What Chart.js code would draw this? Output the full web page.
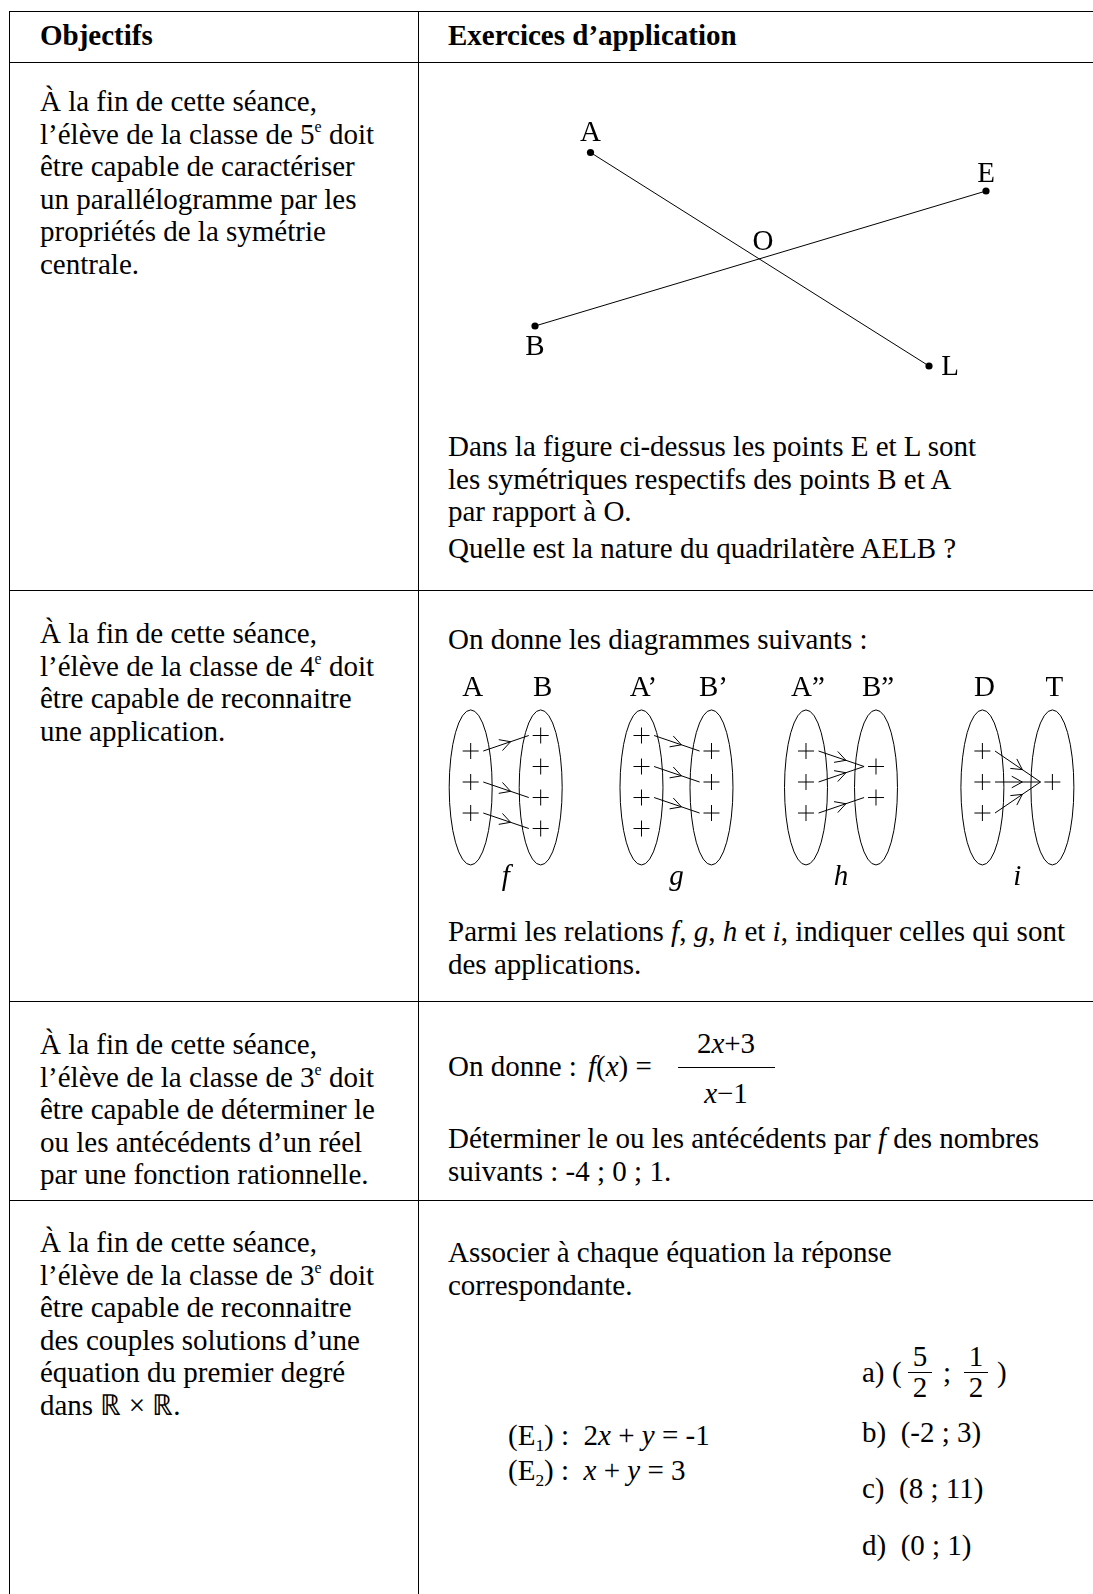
<!DOCTYPE html>
<html>
<head>
<meta charset="utf-8">
<script src="https://cdn.jsdelivr.net/npm/chart.js@4"></script>
<style>
  html, body { margin:0; padding:0; background:#fff; }
  #page { position:relative; width:1093px; height:1594px; overflow:hidden; background:#fff; }
  .hl { position:absolute; height:1px; background:#000; left:9px; right:0; }
  .vl { position:absolute; width:1px; background:#000; top:11px; bottom:0; }
  .t { position:absolute; font-family:"Liberation Serif","Times New Roman",serif; font-size:29px; line-height:32.5px; white-space:nowrap; color:#000; }
  .b { font-weight:bold; }
  .t sup { font-size:0.55em; vertical-align:0; position:relative; top:-0.75em; line-height:0; }
  .t sub { font-size:0.6em; vertical-align:0; position:relative; top:0.35em; line-height:0; }
  .c { text-align:center; }
  .bar { position:absolute; height:1px; background:#000; }
  canvas { position:absolute; }
</style>
</head>
<body>
<div id="page">
  <!-- table rules -->
  <div class="hl" style="top:11px"></div>
  <div class="hl" style="top:62px"></div>
  <div class="hl" style="top:590px"></div>
  <div class="hl" style="top:1001px"></div>
  <div class="hl" style="top:1200px"></div>
  <div class="vl" style="left:9px"></div>
  <div class="vl" style="left:418px"></div>

  <!-- header -->
  <div class="t b" style="left:40px; top:19px">Objectifs</div>
  <div class="t b" style="left:448px; top:19px">Exercices d’application</div>

  <!-- row 1 -->
  <div class="t" style="left:40px; top:85px">À la fin de cette séance,<br>l’élève de la classe de 5<sup>e</sup> doit<br>être capable de caractériser<br>un parallélogramme par les<br>propriétés de la symétrie<br>centrale.</div>
  <canvas id="geo" width="660" height="300" style="left:420px; top:100px"></canvas>
  <div class="t" style="left:448px; top:430px">Dans la figure ci-dessus les points E et L sont<br>les symétriques respectifs des points B et A<br>par rapport à O.</div>
  <div class="t" style="left:448px; top:532px">Quelle est la nature du quadrilatère AELB ?</div>

  <!-- row 2 -->
  <div class="t" style="left:40px; top:617px">À la fin de cette séance,<br>l’élève de la classe de 4<sup>e</sup> doit<br>être capable de reconnaitre<br>une application.</div>
  <div class="t" style="left:448px; top:623px">On donne les diagrammes suivants :</div>
  <canvas id="diag" width="673" height="240" style="left:420px; top:660px"></canvas>
  <div class="t" style="left:448px; top:915px">Parmi les relations <i>f</i>, <i>g</i>, <i>h</i> et <i>i</i>, indiquer celles qui sont<br>des applications.</div>

  <!-- row 3 -->
  <div class="t" style="left:40px; top:1028px">À la fin de cette séance,<br>l’élève de la classe de 3<sup>e</sup> doit<br>être capable de déterminer le<br>ou les antécédents d’un réel<br>par une fonction rationnelle.</div>
  <div class="t" style="left:448px; top:1050px">On donne :</div>
  <div class="t" style="left:588px; top:1050px"><i>f</i>(<i>x</i>) =</div>
  <div class="t c" style="left:677px; width:98px; top:1027px">2<i>x</i>+3</div>
  <div class="bar" style="left:678px; width:97px; top:1067px"></div>
  <div class="t c" style="left:677px; width:98px; top:1077px"><i>x</i>−1</div>
  <div class="t" style="left:448px; top:1122px">Déterminer le ou les antécédents par <i>f</i> des nombres<br>suivants : -4 ; 0 ; 1.</div>

  <!-- row 4 -->
  <div class="t" style="left:40px; top:1226px">À la fin de cette séance,<br>l’élève de la classe de 3<sup>e</sup> doit<br>être capable de reconnaitre<br>des couples solutions d’une<br>équation du premier degré<br>dans ℝ × ℝ.</div>
  <div class="t" style="left:448px; top:1236px">Associer à chaque équation la réponse<br>correspondante.</div>
  <div class="t" style="left:508px; top:1419px">(E<sub>1</sub>) :&nbsp; 2<i>x</i> + <i>y</i> = -1</div>
  <div class="t" style="left:508px; top:1454px">(E<sub>2</sub>) :&nbsp; <i>x</i> + <i>y</i> = 3</div>

  <div class="t" style="left:862px; top:1356px">a)</div>
  <div class="t" style="left:892px; top:1356px">(</div>
  <div class="t c" style="left:906px; width:28px; top:1340px">5</div>
  <div class="bar" style="left:908px; width:24px; top:1372px"></div>
  <div class="t c" style="left:906px; width:28px; top:1371px">2</div>
  <div class="t" style="left:943px; top:1356px">;</div>
  <div class="t c" style="left:962px; width:28px; top:1340px">1</div>
  <div class="bar" style="left:964px; width:24px; top:1372px"></div>
  <div class="t c" style="left:962px; width:28px; top:1371px">2</div>
  <div class="t" style="left:997px; top:1356px">)</div>

  <div class="t" style="left:862px; top:1416px">b)&nbsp; (-2 ; 3)</div>
  <div class="t" style="left:862px; top:1472px">c)&nbsp; (8 ; 11)</div>
  <div class="t" style="left:862px; top:1529px">d)&nbsp; (0 ; 1)</div>
</div>

<script>
// ---------- data: geometry figure (units, O at origin) ----------
const geoNames = ['A', 'E', 'O', 'B', 'L'];
const geoX     = [-3.39, 4.52, 0, -4.50, 3.38];
const geoY     = [ 2.12, 1.35, 0, -1.35, -2.15];
const geoSegments = [['A', 'L'], ['B', 'E']];
const geoDots  = ['A', 'E', 'B', 'L'];

// ---------- data: arrow diagrams ----------
const diagNames   = ['f', 'g', 'h', 'i'];
const diagX       = [0, 2.44, 4.79, 7.31];          // x of each left set
const setLabels   = [['A', 'B'], ['A’', 'B’'], ['A”', 'B”'], ['D', 'T']];
const leftElems   = [[2, 0, -2], [3, 1, -1, -3], [2, 0, -2], [2, 0, -2]];
const rightElems  = [[3, 1, -1, -3], [2, 0, -2], [1, -1], [0]];
const arrowTarget = [[0, 2, 3], [0, 1, 2], [0, 0, 1], [0, 0, 0]]; // index in rightElems

const FONT = '"Liberation Serif", "Times New Roman", serif';
const idx = n => geoNames.indexOf(n);
const pt = n => ({ x: geoX[idx(n)], y: geoY[idx(n)] });

// ---------- chart 1 ----------
const geoLabelOffsets = { A: [0, -20], E: [0, -18], O: [3, -17], B: [0, 20], L: [21, 0] };
const geoLabelPlugin = {
  id: 'geoLabels',
  afterDatasetsDraw(chart) {
    const { ctx, scales: { x, y } } = chart;
    ctx.save();
    ctx.font = '29px ' + FONT;
    ctx.fillStyle = '#000';
    ctx.textAlign = 'center';
    ctx.textBaseline = 'middle';
    geoNames.forEach((n, i) => {
      const o = geoLabelOffsets[n] || [0, 0];
      ctx.fillText(n, x.getPixelForValue(geoX[i]) + o[0], y.getPixelForValue(geoY[i]) + o[1] + 1);
    });
    ctx.restore();
  }
};

const geoDatasets = geoSegments.map(s => ({
  data: s.map(pt), showLine: true, borderColor: '#000', borderWidth: 1,
  pointRadius: 0, clip: false
}));
geoDatasets.push({
  data: geoDots.map(pt), showLine: false, pointRadius: 3.6,
  pointBackgroundColor: '#000', pointBorderColor: '#000', pointBorderWidth: 0, clip: false
});

new Chart(document.getElementById('geo'), {
  type: 'scatter',
  data: { datasets: geoDatasets },
  options: {
    responsive: false, animation: false, events: [],
    layout: { padding: 0, autoPadding: false },
    plugins: { legend: { display: false }, tooltip: { enabled: false } },
    scales: {
      x: { type: 'linear', min: -6.8, max: 6.4, display: false },
      y: { type: 'linear', min: -2.83, max: 3.17, display: false }
    }
  },
  plugins: [geoLabelPlugin]
});

// ---------- chart 2 ----------
const ELL_RX = 0.307, ELL_RY = 5.0, ELL_CY = -0.35;
const START_OFF = 0.18, END_OFF = 0.17;
const LABEL_Y = 6.13, NAME_Y = -6.1;

const plusPts = [];
diagX.forEach((dx, d) => {
  leftElems[d].forEach(v => plusPts.push({ x: dx, y: v }));
  rightElems[d].forEach(v => plusPts.push({ x: dx + 1, y: v }));
});

const diagDatasets = [{
  data: plusPts, showLine: false, pointStyle: 'cross', pointRadius: 8,
  borderColor: '#000', pointBorderColor: '#000', pointBorderWidth: 1, clip: false
}];
diagX.forEach((dx, d) => {
  arrowTarget[d].forEach((t, k) => {
    diagDatasets.push({
      arrow: true,
      data: [{ x: dx + START_OFF, y: leftElems[d][k] }, { x: dx + 1 - END_OFF, y: rightElems[d][t] }],
      showLine: true, borderColor: '#000', borderWidth: 1, pointRadius: 0, clip: false
    });
  });
});

const diagPlugin = {
  id: 'diagDecor',
  beforeDatasetsDraw(chart) {
    const { ctx, scales: { x, y } } = chart;
    ctx.save();
    ctx.strokeStyle = '#000';
    ctx.lineWidth = 1;
    diagX.forEach(dx => {
      [0, 1].forEach(side => {
        const cx = x.getPixelForValue(dx + side), cy = y.getPixelForValue(ELL_CY);
        const rx = Math.abs(x.getPixelForValue(dx + side + ELL_RX) - cx);
        const ry = Math.abs(y.getPixelForValue(ELL_CY + ELL_RY) - cy);
        ctx.beginPath();
        ctx.ellipse(cx, cy, rx, ry, 0, 0, Math.PI * 2);
        ctx.stroke();
      });
    });
    ctx.restore();
  },
  afterDatasetsDraw(chart) {
    const { ctx, scales: { x, y } } = chart;
    ctx.save();
    ctx.strokeStyle = '#000';
    ctx.lineWidth = 1;
    chart.data.datasets.forEach((ds, i) => {
      if (!ds.arrow) return;
      const m = chart.getDatasetMeta(i).data;
      const p0 = m[0], p1 = m[1];
      const t = 0.6;
      const px = p0.x + (p1.x - p0.x) * t, py = p0.y + (p1.y - p0.y) * t;
      const ang = Math.atan2(p1.y - p0.y, p1.x - p0.x);
      const L = 12, a = 0.5;
      ctx.beginPath();
      ctx.moveTo(px - L * Math.cos(ang - a), py - L * Math.sin(ang - a));
      ctx.lineTo(px, py);
      ctx.lineTo(px - L * Math.cos(ang + a), py - L * Math.sin(ang + a));
      ctx.stroke();
    });
    ctx.fillStyle = '#000';
    ctx.textAlign = 'center';
    ctx.textBaseline = 'middle';
    diagX.forEach((dx, d) => {
      ctx.font = '29px ' + FONT;
      setLabels[d].forEach((lab, side) => {
        ctx.fillText(lab, x.getPixelForValue(dx + side) + 2, y.getPixelForValue(LABEL_Y) + 1);
      });
      ctx.font = 'italic 29px ' + FONT;
      ctx.fillText(diagNames[d], x.getPixelForValue(dx + 0.5), y.getPixelForValue(NAME_Y) + 1);
    });
    ctx.restore();
  }
};

new Chart(document.getElementById('diag'), {
  type: 'scatter',
  data: { datasets: diagDatasets },
  options: {
    responsive: false, animation: false, events: [],
    layout: { padding: 0, autoPadding: false },
    plugins: { legend: { display: false }, tooltip: { enabled: false } },
    scales: {
      x: { type: 'linear', min: -0.724, max: 8.89, display: false },
      y: { type: 'linear', min: -7.61, max: 7.87, display: false }
    }
  },
  plugins: [diagPlugin]
});
</script>
</body>
</html>
